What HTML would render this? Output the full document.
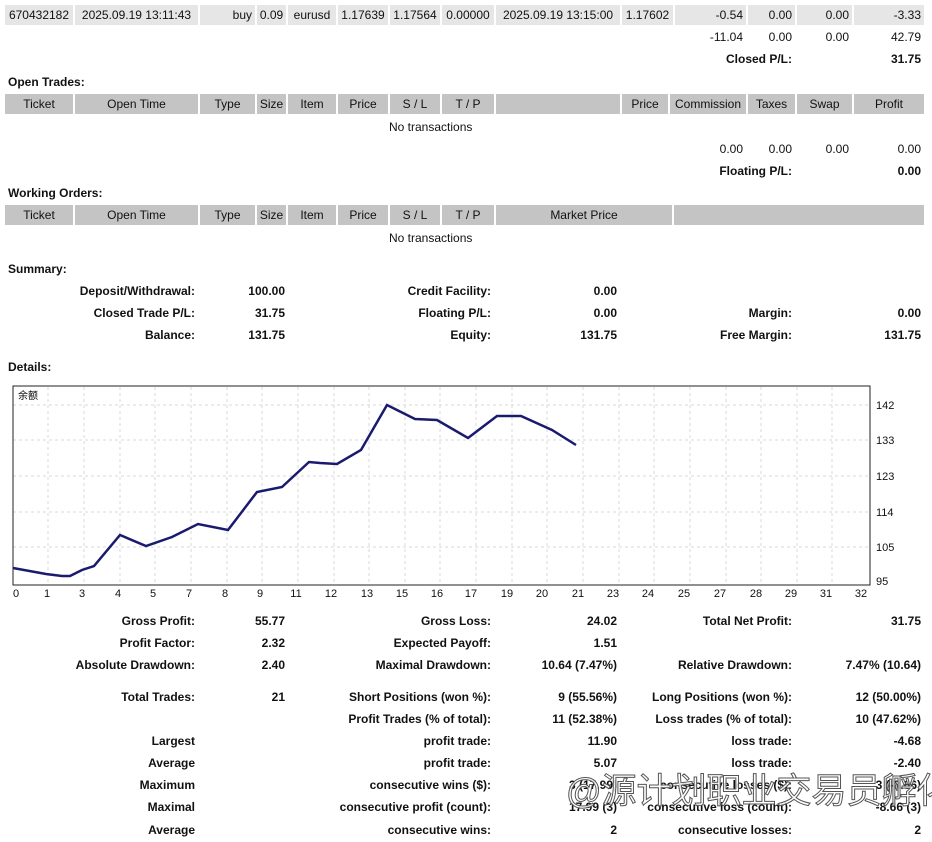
<!DOCTYPE html>
<html><head><meta charset="utf-8"><style>
body{margin:0;width:932px;height:842px;background:#fff;position:relative;overflow:hidden;font-family:"Liberation Sans","Noto Sans CJK SC",sans-serif;font-size:12px;color:#111}
.c{position:absolute;height:20px;line-height:20px;white-space:nowrap;box-sizing:border-box;padding:0 3px}
.g{background:#e6e6e6}.h{background:#c4c4c4;text-align:center}
.r{text-align:right}.m{text-align:center}.b{font-weight:bold}
.t{position:absolute;white-space:nowrap;line-height:16px}
</style></head><body>
<div class="c g m" style="left:5px;top:5px;width:68px">670432182</div>
<div class="c g m" style="left:75px;top:5px;width:123px">2025.09.19 13:11:43</div>
<div class="c g r" style="left:200px;top:5px;width:55px">buy</div>
<div class="c g m" style="left:257px;top:5px;width:29px;padding:0">0.09</div>
<div class="c g m" style="left:288px;top:5px;width:48px">eurusd</div>
<div class="c g m" style="left:338px;top:5px;width:50px">1.17639</div>
<div class="c g m" style="left:390px;top:5px;width:50px">1.17564</div>
<div class="c g m" style="left:442px;top:5px;width:52px">0.00000</div>
<div class="c g m" style="left:496px;top:5px;width:124px">2025.09.19 13:15:00</div>
<div class="c g m" style="left:622px;top:5px;width:51px">1.17602</div>
<div class="c g r" style="left:675px;top:5px;width:71px">-0.54</div>
<div class="c g r" style="left:748px;top:5px;width:47px">0.00</div>
<div class="c g r" style="left:797px;top:5px;width:55px">0.00</div>
<div class="c g r" style="left:854px;top:5px;width:70px">-3.33</div>
<div class="c r" style="left:675px;top:27px;width:71px">-11.04</div>
<div class="c r" style="left:748px;top:27px;width:47px">0.00</div>
<div class="c r" style="left:797px;top:27px;width:55px">0.00</div>
<div class="c r" style="left:854px;top:27px;width:70px">42.79</div>
<div class="c r b" style="left:600px;top:49px;width:195px">Closed P/L:</div>
<div class="c r b" style="left:854px;top:49px;width:70px">31.75</div>
<div class="t b" style="left:8px;top:74px">Open Trades:</div>
<div class="c h" style="left:5px;top:94px;width:68px">Ticket</div>
<div class="c h" style="left:75px;top:94px;width:123px">Open Time</div>
<div class="c h" style="left:200px;top:94px;width:55px">Type</div>
<div class="c h" style="left:257px;top:94px;width:29px;padding:0">Size</div>
<div class="c h" style="left:288px;top:94px;width:48px">Item</div>
<div class="c h" style="left:338px;top:94px;width:50px">Price</div>
<div class="c h" style="left:390px;top:94px;width:50px">S / L</div>
<div class="c h" style="left:442px;top:94px;width:52px">T / P</div>
<div class="c h" style="left:496px;top:94px;width:124px"></div>
<div class="c h" style="left:622px;top:94px;width:46px">Price</div>
<div class="c h" style="left:670px;top:94px;width:76px">Commission</div>
<div class="c h" style="left:748px;top:94px;width:47px">Taxes</div>
<div class="c h" style="left:797px;top:94px;width:55px">Swap</div>
<div class="c h" style="left:854px;top:94px;width:70px">Profit</div>
<div class="t" style="left:389px;top:119px">No transactions</div>
<div class="c r" style="left:675px;top:139px;width:71px">0.00</div>
<div class="c r" style="left:748px;top:139px;width:47px">0.00</div>
<div class="c r" style="left:797px;top:139px;width:55px">0.00</div>
<div class="c r" style="left:854px;top:139px;width:70px">0.00</div>
<div class="c r b" style="left:600px;top:161px;width:195px">Floating P/L:</div>
<div class="c r b" style="left:854px;top:161px;width:70px">0.00</div>
<div class="t b" style="left:8px;top:185px">Working Orders:</div>
<div class="c h" style="left:5px;top:205px;width:68px">Ticket</div>
<div class="c h" style="left:75px;top:205px;width:123px">Open Time</div>
<div class="c h" style="left:200px;top:205px;width:55px">Type</div>
<div class="c h" style="left:257px;top:205px;width:29px;padding:0">Size</div>
<div class="c h" style="left:288px;top:205px;width:48px">Item</div>
<div class="c h" style="left:338px;top:205px;width:50px">Price</div>
<div class="c h" style="left:390px;top:205px;width:50px">S / L</div>
<div class="c h" style="left:442px;top:205px;width:52px">T / P</div>
<div class="c h" style="left:496px;top:205px;width:176px">Market Price</div>
<div class="c h" style="left:674px;top:205px;width:250px"></div>
<div class="t" style="left:389px;top:230px">No transactions</div>
<div class="t b" style="left:8px;top:261px">Summary:</div>
<div class="c r b" style="left:20px;top:281px;width:178px">Deposit/Withdrawal:</div>
<div class="c r b" style="left:200px;top:281px;width:88px">100.00</div>
<div class="c r b" style="left:20px;top:303px;width:178px">Closed Trade P/L:</div>
<div class="c r b" style="left:200px;top:303px;width:88px">31.75</div>
<div class="c r b" style="left:20px;top:325px;width:178px">Balance:</div>
<div class="c r b" style="left:200px;top:325px;width:88px">131.75</div>
<div class="c r b" style="left:300px;top:281px;width:194px">Credit Facility:</div>
<div class="c r b" style="left:496px;top:281px;width:124px">0.00</div>
<div class="c r b" style="left:300px;top:303px;width:194px">Floating P/L:</div>
<div class="c r b" style="left:496px;top:303px;width:124px">0.00</div>
<div class="c r b" style="left:300px;top:325px;width:194px">Equity:</div>
<div class="c r b" style="left:496px;top:325px;width:124px">131.75</div>
<div class="c r b" style="left:600px;top:303px;width:195px">Margin:</div>
<div class="c r b" style="left:854px;top:303px;width:70px">0.00</div>
<div class="c r b" style="left:600px;top:325px;width:195px">Free Margin:</div>
<div class="c r b" style="left:854px;top:325px;width:70px">131.75</div>
<div class="t b" style="left:8px;top:359px">Details:</div>
<svg style="position:absolute;left:0;top:380px" width="932" height="222" viewBox="0 380 932 222">
<g stroke="#d8d8d8" stroke-dasharray="3,3" stroke-width="1">
<line x1="13" y1="405" x2="870" y2="405"/><line x1="13" y1="440" x2="870" y2="440"/><line x1="13" y1="476" x2="870" y2="476"/><line x1="13" y1="512" x2="870" y2="512"/><line x1="13" y1="547" x2="870" y2="547"/>
<line x1="48" y1="387" x2="48" y2="585"/><line x1="84" y1="387" x2="84" y2="585"/><line x1="120" y1="387" x2="120" y2="585"/><line x1="155" y1="387" x2="155" y2="585"/><line x1="191" y1="387" x2="191" y2="585"/><line x1="227" y1="387" x2="227" y2="585"/><line x1="262" y1="387" x2="262" y2="585"/><line x1="298" y1="387" x2="298" y2="585"/><line x1="334" y1="387" x2="334" y2="585"/><line x1="369" y1="387" x2="369" y2="585"/><line x1="405" y1="387" x2="405" y2="585"/><line x1="440" y1="387" x2="440" y2="585"/><line x1="476" y1="387" x2="476" y2="585"/><line x1="512" y1="387" x2="512" y2="585"/><line x1="547" y1="387" x2="547" y2="585"/><line x1="583" y1="387" x2="583" y2="585"/><line x1="619" y1="387" x2="619" y2="585"/><line x1="654" y1="387" x2="654" y2="585"/><line x1="690" y1="387" x2="690" y2="585"/><line x1="726" y1="387" x2="726" y2="585"/><line x1="761" y1="387" x2="761" y2="585"/><line x1="797" y1="387" x2="797" y2="585"/><line x1="832" y1="387" x2="832" y2="585"/>
</g>
<rect x="13" y="386" width="857" height="199" fill="none" stroke="#222" stroke-width="1"/>
<polyline fill="none" stroke="#1a1a6e" stroke-width="2.5" points="13,568 46,574 62,576 70,576 82,570 94,566 120,535 146,546 172,537 198,524 228,530 257,492 282,487 309,462 320,463 337,464 361,450 387,405 415,419 437,420 468,438 497,416 521,416 552,430 576,445"/>
<text x="18" y="399" font-size="10" font-family="Noto Sans CJK SC,sans-serif">余额</text>
<g font-size="11" font-family="Liberation Sans,sans-serif" fill="#111">
<text x="876" y="409">142</text><text x="876" y="444">133</text><text x="876" y="480">123</text><text x="876" y="516">114</text><text x="876" y="551">105</text><text x="876" y="585">95</text>
<g text-anchor="middle">
<text x="16" y="597">0</text><text x="47" y="597">1</text><text x="82" y="597">3</text><text x="118" y="597">4</text><text x="153" y="597">5</text><text x="189" y="597">7</text><text x="225" y="597">8</text><text x="260" y="597">9</text><text x="296" y="597">11</text><text x="331" y="597">12</text><text x="367" y="597">13</text><text x="402" y="597">15</text><text x="437" y="597">16</text><text x="471" y="597">17</text><text x="507" y="597">19</text><text x="542" y="597">20</text><text x="578" y="597">21</text><text x="613" y="597">23</text><text x="648" y="597">24</text><text x="684" y="597">25</text><text x="720" y="597">27</text><text x="756" y="597">28</text><text x="791" y="597">29</text><text x="826" y="597">31</text><text x="861" y="597">32</text>
</g></g>
</svg>
<div class="c r b" style="left:20px;top:611px;width:178px">Gross Profit:</div>
<div class="c r b" style="left:200px;top:611px;width:88px">55.77</div>
<div class="c r b" style="left:20px;top:633px;width:178px">Profit Factor:</div>
<div class="c r b" style="left:200px;top:633px;width:88px">2.32</div>
<div class="c r b" style="left:20px;top:655px;width:178px">Absolute Drawdown:</div>
<div class="c r b" style="left:200px;top:655px;width:88px">2.40</div>
<div class="c r b" style="left:20px;top:687px;width:178px">Total Trades:</div>
<div class="c r b" style="left:200px;top:687px;width:88px">21</div>
<div class="c r b" style="left:20px;top:731px;width:178px">Largest</div>
<div class="c r b" style="left:20px;top:753px;width:178px">Average</div>
<div class="c r b" style="left:20px;top:775px;width:178px">Maximum</div>
<div class="c r b" style="left:20px;top:797px;width:178px">Maximal</div>
<div class="c r b" style="left:20px;top:820px;width:178px">Average</div>
<div class="c r b" style="left:300px;top:611px;width:194px">Gross Loss:</div>
<div class="c r b" style="left:496px;top:611px;width:124px">24.02</div>
<div class="c r b" style="left:300px;top:633px;width:194px">Expected Payoff:</div>
<div class="c r b" style="left:496px;top:633px;width:124px">1.51</div>
<div class="c r b" style="left:300px;top:655px;width:194px">Maximal Drawdown:</div>
<div class="c r b" style="left:496px;top:655px;width:124px">10.64 (7.47%)</div>
<div class="c r b" style="left:300px;top:687px;width:194px">Short Positions (won %):</div>
<div class="c r b" style="left:496px;top:687px;width:124px">9 (55.56%)</div>
<div class="c r b" style="left:300px;top:709px;width:194px">Profit Trades (% of total):</div>
<div class="c r b" style="left:496px;top:709px;width:124px">11 (52.38%)</div>
<div class="c r b" style="left:300px;top:731px;width:194px">profit trade:</div>
<div class="c r b" style="left:496px;top:731px;width:124px">11.90</div>
<div class="c r b" style="left:300px;top:753px;width:194px">profit trade:</div>
<div class="c r b" style="left:496px;top:753px;width:124px">5.07</div>
<div class="c r b" style="left:300px;top:775px;width:194px">consecutive wins ($):</div>
<div class="c r b" style="left:496px;top:775px;width:124px">3 (17.99)</div>
<div class="c r b" style="left:300px;top:797px;width:194px">consecutive profit (count):</div>
<div class="c r b" style="left:496px;top:797px;width:124px">17.99 (3)</div>
<div class="c r b" style="left:300px;top:820px;width:194px">consecutive wins:</div>
<div class="c r b" style="left:496px;top:820px;width:124px">2</div>
<div class="c r b" style="left:600px;top:611px;width:195px">Total Net Profit:</div>
<div class="c r b" style="left:824px;top:611px;width:100px">31.75</div>
<div class="c r b" style="left:600px;top:655px;width:195px">Relative Drawdown:</div>
<div class="c r b" style="left:824px;top:655px;width:100px">7.47% (10.64)</div>
<div class="c r b" style="left:600px;top:687px;width:195px">Long Positions (won %):</div>
<div class="c r b" style="left:824px;top:687px;width:100px">12 (50.00%)</div>
<div class="c r b" style="left:600px;top:709px;width:195px">Loss trades (% of total):</div>
<div class="c r b" style="left:824px;top:709px;width:100px">10 (47.62%)</div>
<div class="c r b" style="left:600px;top:731px;width:195px">loss trade:</div>
<div class="c r b" style="left:824px;top:731px;width:100px">-4.68</div>
<div class="c r b" style="left:600px;top:753px;width:195px">loss trade:</div>
<div class="c r b" style="left:824px;top:753px;width:100px">-2.40</div>
<div class="c r b" style="left:600px;top:775px;width:195px">consecutive losses ($):</div>
<div class="c r b" style="left:824px;top:775px;width:100px">3 (-8.66)</div>
<div class="c r b" style="left:600px;top:797px;width:195px">consecutive loss (count):</div>
<div class="c r b" style="left:824px;top:797px;width:100px">-8.66 (3)</div>
<div class="c r b" style="left:600px;top:820px;width:195px">consecutive losses:</div>
<div class="c r b" style="left:824px;top:820px;width:100px">2</div>
<div class="t" style="left:566px;top:772px;font-size:35px;line-height:40px;color:rgba(255,255,255,0.85);-webkit-text-stroke:1px #555;font-family:'Liberation Sans','Noto Sans CJK SC',sans-serif">@源计划职业交易员孵化</div>
</body></html>
